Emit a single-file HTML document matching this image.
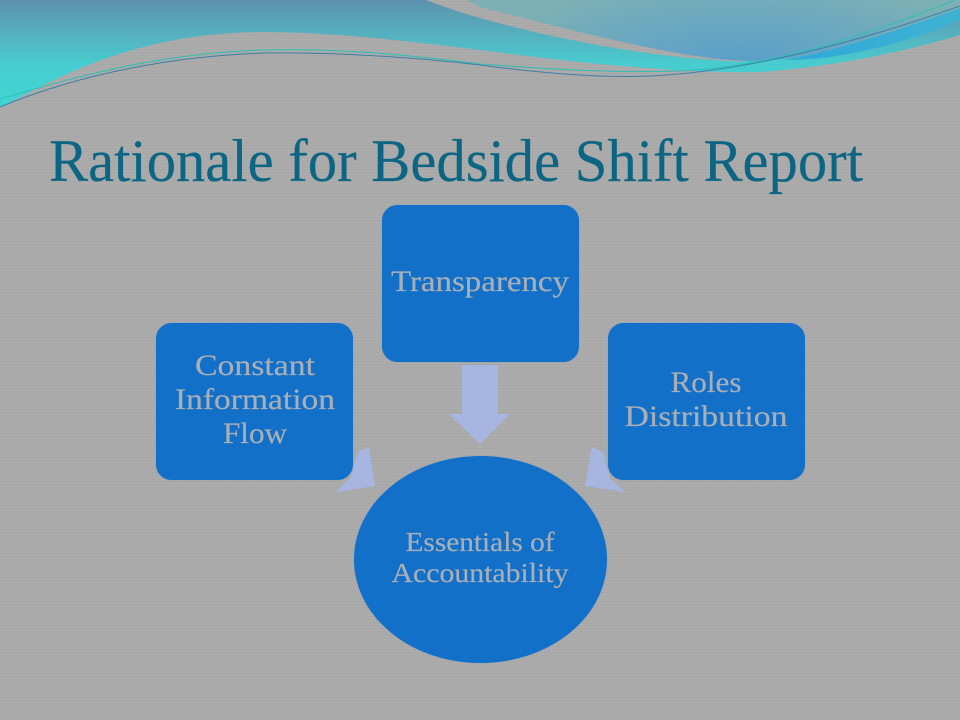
<!DOCTYPE html>
<html lang="en">
<head>
<meta charset="utf-8">
<title>Rationale for Bedside Shift Report</title>
<style>
html,body{margin:0;padding:0;width:960px;height:720px;overflow:hidden;background:#aaa}
svg{display:block}
text{font-family:"Liberation Serif",serif}
</style>
</head>
<body>
<svg width="960" height="720" viewBox="0 0 960 720" xmlns="http://www.w3.org/2000/svg">
<defs>
<pattern id="tex" width="6" height="6" patternUnits="userSpaceOnUse">
<rect width="6" height="6" fill="#aeaeae"/>
<path d="M0 1 L1.500 2.500 L3 1 L4.500 2.500 L6 1" fill="none" stroke="#a5a5a5" stroke-width="1"/>
<path d="M-1.500 4 L0 5.500 L1.500 4 L3 5.500 L4.500 4 L6 5.500 L7.500 4" fill="none" stroke="#a5a5a5" stroke-width="1"/>
</pattern>
<linearGradient id="g1" gradientUnits="userSpaceOnUse" x1="0" y1="0" x2="0" y2="105">
<stop offset="0" stop-color="#5d92ad"/>
<stop offset="0.35" stop-color="#55b2c0"/>
<stop offset="0.6" stop-color="#48cbcf"/>
<stop offset="1" stop-color="#3fd6d2"/>
</linearGradient>
<radialGradient id="g3" gradientUnits="userSpaceOnUse" cx="740" cy="62" r="260" gradientTransform="translate(0 42) scale(1 .32)">
<stop offset="0" stop-color="#5a9fcb"/>
<stop offset="1" stop-color="#7cb0b4"/>
</radialGradient>
<linearGradient id="g4" x1="0" y1="0" x2="1" y2="0">
<stop offset="0" stop-color="#2fa8d8"/>
<stop offset="1" stop-color="#3fb2d4"/>
</linearGradient>
</defs>
<rect width="960" height="720" fill="url(#tex)"/>

<path d="M0 0H426C445 7 462 13 480 18C540 35 620 52 700 59L740 62L960 10V35C900 53 830 67 760 72C690 73 600 66 480 50C400 40 330 32 260 32C170 33 100 55 30 92C18 98 8 103 0 107Z" fill="url(#g1)"/>
<path d="M467 0H960V8C900 32 840 58 750 61C690 60 610 40 480 7Z" fill="url(#g3)"/>
<path d="M785 60C840 50 900 30 960 8V20C900 45 840 60 785 60Z" fill="url(#g4)"/>

<path d="M0 99C60 82 150 53 265 50C340 48 420 56 480 64C560 70 620 73 680 71C780 66 880 30 955 0" fill="none" stroke="#2fbfb4" stroke-width="1"/>
<path d="M0 107C60 82 150 57 265 53C340 52 420 58 480 65C540 73 600 78 650 76C740 72 850 45 960 6" fill="none" stroke="#3d7fa8" stroke-width="1"/>

<text x="49" y="181" font-size="60" fill="#0c6683" stroke="#0c6683" stroke-width=".2" textLength="814" lengthAdjust="spacingAndGlyphs">Rationale for Bedside Shift Report</text>

<polygon points="462,365 498,365 498,414 510,414 480,444 449,414 462,414" fill="#a6b6e0"/>
<polygon points="336,492 350,478 358,452 369,447 375,486" fill="#a6b6e0"/>
<polygon points="625,492 610,478 603,452 592,447 585,486" fill="#a6b6e0"/>

<g fill="#1270c8" stroke="#a2a7ad" stroke-width="1">
<rect x="155.500" y="322.500" width="198" height="158" rx="16"/>
<rect x="381.500" y="204.500" width="198" height="158" rx="16"/>
<rect x="607.500" y="322.500" width="198" height="158" rx="16"/>
<ellipse cx="480.500" cy="559.500" rx="127" ry="104"/>
</g>

<g fill="#a9afb6" stroke="#a9afb6" stroke-width=".2" font-size="30" text-anchor="middle">
<text x="255" y="375" textLength="120" lengthAdjust="spacingAndGlyphs">Constant</text>
<text x="255" y="409" textLength="160" lengthAdjust="spacingAndGlyphs">Information</text>
<text x="255" y="443" textLength="64" lengthAdjust="spacingAndGlyphs">Flow</text>
<text x="480" y="291" textLength="178" lengthAdjust="spacingAndGlyphs">Transparency</text>
<text x="706" y="392" textLength="71" lengthAdjust="spacingAndGlyphs">Roles</text>
<text x="706" y="426" textLength="163" lengthAdjust="spacingAndGlyphs">Distribution</text>
<text x="480" y="551" font-size="27" textLength="149" lengthAdjust="spacingAndGlyphs">Essentials of</text>
<text x="480" y="582" font-size="27" textLength="177" lengthAdjust="spacingAndGlyphs">Accountability</text>
</g>
</svg>
</body>
</html>
